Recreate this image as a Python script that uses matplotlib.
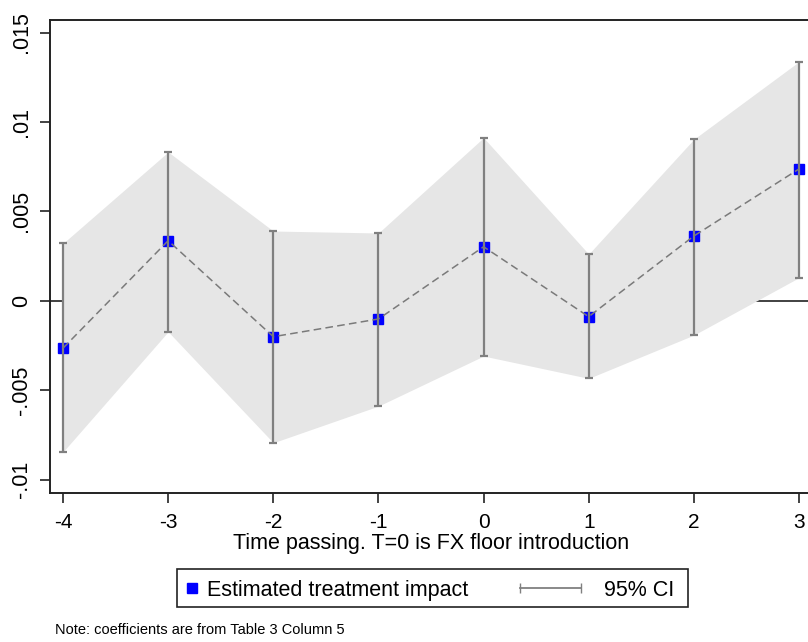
import numpy as np
import matplotlib
matplotlib.use('Agg')
import matplotlib.pyplot as plt
from matplotlib.lines import Line2D
from matplotlib.patches import Rectangle

plt.rcParams['font.family'] = ['Liberation Sans', 'DejaVu Sans']

# Event-study coefficients
periods = [-4, -3, -2, -1, 0, 1, 2, 3]
coef = [-0.00265, 0.00336, -0.00201, -0.00102, 0.00302, -0.00089, 0.00362, 0.00737]
ci_low = [-0.00845, -0.00173, -0.00794, -0.00589, -0.00309, -0.00434, -0.00192, 0.00129]
ci_high = [0.00321, 0.00832, 0.00390, 0.00379, 0.00912, 0.00261, 0.00903, 0.01337]

ytick_vals = [-0.01, -0.005, 0, 0.005, 0.01, 0.015]
ytick_labels = ['-.01', '-.005', '0', '.005', '.01', '.015']

x_label = 'Time passing. T=0 is FX floor introduction'
legend_labels = ['Estimated treatment impact', '95% CI']
note = 'Note: coefficients are from Table 3 Column 5'


def main():
    fig = plt.figure(figsize=(8.08, 6.42), dpi=100)
    W, H = 808, 642
    ax = fig.add_axes([50 / W, 1 - 493 / H, 762 / W, 473 / H])

    ax.axhline(0, color='#333333', lw=1.3, zorder=1)
    ax.fill_between(periods, ci_low, ci_high, color='#e6e6e6', lw=0, zorder=2)
    ax.plot(periods, coef, ls='none', marker='s', ms=7.5, mfc='#0000ff', mec='#0000ff', zorder=3)
    ax.errorbar(periods, coef,
                yerr=[np.array(coef) - np.array(ci_low), np.array(ci_high) - np.array(coef)],
                fmt='none', ecolor='#808080', elinewidth=1.6, capsize=3, capthick=1.6, zorder=4)
    ax.plot(periods, coef, ls=(0, (5, 2.8)), color='#7a7a7a', lw=1.1, zorder=5)

    ax.set_xlim(-4.124, 3.124)
    ax.set_ylim(-0.01075, 0.0157)
    ax.set_xticks(periods)
    ax.set_xticklabels([str(p) for p in periods], fontsize=15)
    ax.set_yticks(ytick_vals)
    ax.set_yticklabels(ytick_labels, fontsize=15.5, rotation=90, va='center')
    ax.tick_params(axis='both', direction='out', length=7, width=1.2, color='#222222')
    ax.tick_params(axis='y', pad=6)
    ax.tick_params(axis='x', pad=7.5)
    for s in ax.spines.values():
        s.set_linewidth(1.4)
        s.set_color('#222222')
    ax.set_xlabel(x_label, fontsize=15.5, va='center')
    ax.xaxis.set_label_coords(0.5, -(543 - 493) / 473)

    # legend box drawn below the plot
    fig.patches.append(Rectangle((177 / W, 1 - 607 / H), 511 / W, 38 / H,
                                 transform=fig.transFigure, fill=False,
                                 ec='#222222', lw=1.2))
    ly = 1 - 588 / H
    fig.add_artist(Line2D([192 / W], [ly], marker='s', ms=7,
                          mfc='#0000ff', mec='#0000ff', transform=fig.transFigure))
    fig.text(207 / W, ly, legend_labels[0], fontsize=15.5, va='center_baseline')
    fig.add_artist(Line2D([520 / W, 581 / W], [ly] * 2, color='#808080', lw=1.3,
                          marker='|', ms=7, markevery=[0, 1], transform=fig.transFigure))
    fig.text(604 / W, ly, legend_labels[1], fontsize=15.5, va='center_baseline')

    fig.text(55 / W, 1 - 630 / H, note, fontsize=10.5, va='center')

    fig.savefig('out.png', dpi=100)


if __name__ == '__main__':
    main()
